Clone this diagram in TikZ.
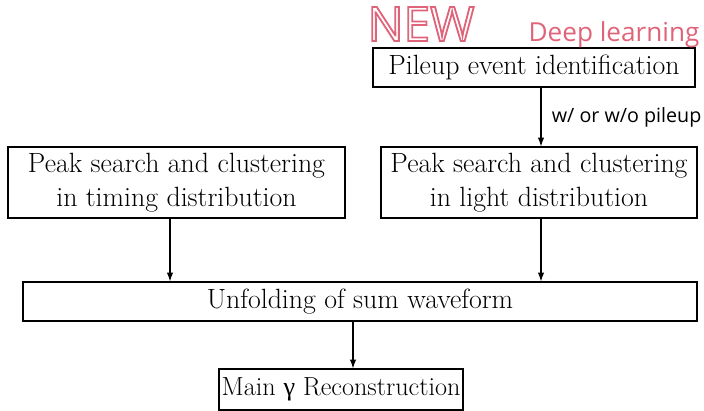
\documentclass[tikz,border=0pt]{standalone}
\usepackage{fontspec}
\newfontfamily\labelfont{Open Sans}
\newfontfamily\greekfont{Liberation Serif}
\usetikzlibrary{arrows.meta}
\definecolor{newpink}{HTML}{E06479}
\newcommand{\outlinetext}[1]{\special{pdf:code q 1 Tr 1.3 w}#1\special{pdf:code Q}}

\begin{document}
\begin{tikzpicture}[x=0.025cm,y=-0.025cm,
    box/.style={draw, line width=0.8pt, inner sep=0pt, align=center,
      font=\fontsize{19.8}{24}\selectfont},
    arr/.style={-{Latex[length=2.2mm,width=1.6mm]}, line width=0.8pt}]
    \useasboundingbox (0,0) rectangle (704,411);
    % boxes
    \node[box, minimum width=322*0.025cm, minimum height=39*0.025cm] (pileup) at (534,67.5) {Pileup event identification};
    \node[box, minimum width=337*0.025cm, minimum height=71*0.025cm] (tpeak) at (176.5,182.5) {Peak search and clustering\\in timing distribution};
    \node[box, minimum width=316*0.025cm, minimum height=71*0.025cm] (lpeak) at (539,182.5) {Peak search and clustering\\in light distribution};
    \node[box, minimum width=674*0.025cm, minimum height=39*0.025cm] (unfold) at (360,301.5) {Unfolding of sum waveform};
    \node[box, minimum width=244*0.025cm, minimum height=41*0.025cm, font=\fontsize{18.6}{22}\selectfont] (mainrec) at (341,389.5) {Main {\greekfont γ} Reconstruction};
    % labels
    \node[font=\labelfont\fontsize{34}{34}\selectfont, text=newpink] (new) at (421,24) {\outlinetext{NEW}};
    \node[font=\labelfont\fontsize{18.6}{18.6}\selectfont, text=newpink] (dl) at (614,35) {Deep learning};
    % arrows
    \draw[arr] (pileup.south -| 541,0) -- (lpeak.north -| 541,0)
      node[midway, right=4pt, font=\labelfont\fontsize{14}{14}\selectfont] (wlabel) {w/ or w/o pileup};
    \draw[arr] (tpeak.south -| 170,0) -- (unfold.north -| 170,0);
    \draw[arr] (lpeak.south -| 541,0) -- (unfold.north -| 541,0);
    \draw[arr] (unfold.south -| 353,0) -- (mainrec.north -| 353,0);
\end{tikzpicture}
\end{document}
